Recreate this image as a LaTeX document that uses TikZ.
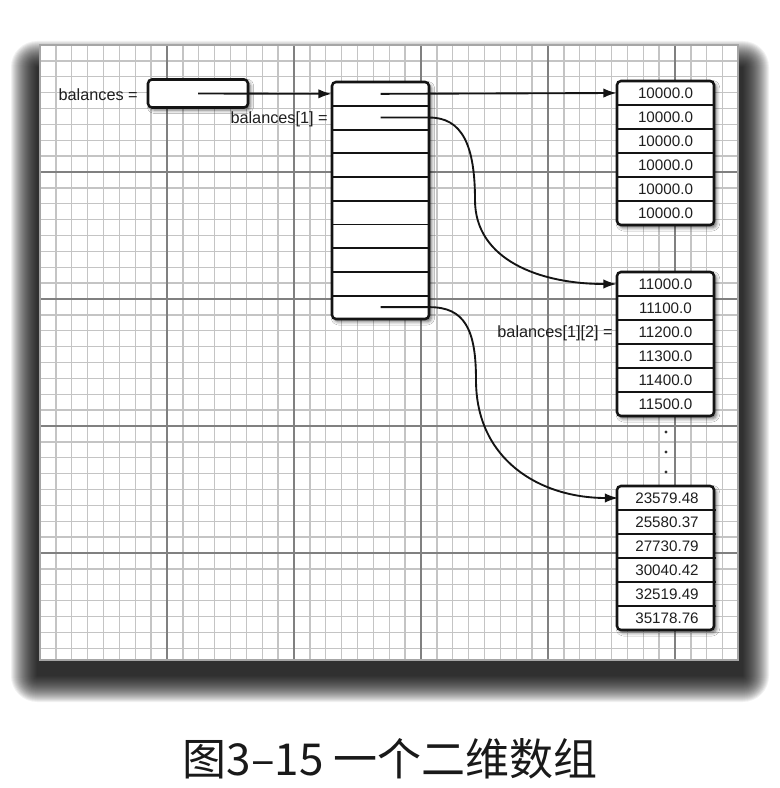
\documentclass[tikz,border=0pt]{standalone}
\usepackage{fontspec}
\setmainfont{Liberation Sans}
\newfontfamily\cjk{Noto Sans CJK SC}
\usetikzlibrary{arrows.meta,shadows.blur}
\newcommand\lblfont{\fontsize{12.2}{14}\selectfont}
\newcommand\valfont{\fontsize{11.4}{13}\selectfont}
\begin{document}
\begin{tikzpicture}[x=0.75pt,y=-0.75pt,
  minor/.style={draw=gray!46, line width=1.1pt},
  major/.style={draw=gray!100, line width=1.2pt},
  shadowlayer/.style={fill=black, fill opacity=0.056},
  boxouter/.style={draw=black!92, line width=1.9pt, rounded corners=3pt, fill=white,
     blur shadow={shadow xshift=1.8pt, shadow yshift=-2pt, shadow blur radius=2.5pt, shadow opacity=60}},
  tcell/.style={minimum width=72.75pt, minimum height=17.775pt, inner sep=0pt},
  rcell/.style={minimum width=72.75pt, minimum height=18pt, inner sep=0pt, font=\valfont, text=black!88},
  divider/.style={draw=black!92, line width=1.4pt},
  ptr/.style={draw=black!92, line width=1.4pt, -{Latex[length=10pt,width=7pt]}},
  lbl/.style={inner sep=0pt, font=\lblfont, text=black!88},
  dotmark/.style={fill=black!80}]
\useasboundingbox (0,0) rectangle (780,788);
\fill[white] (0,0) rectangle (780,788);
% panel shadow: stacked translucent layers
\foreach \r in {0,1,...,26}
  \fill[shadowlayer, rounded corners={\r*0.75pt+0.1pt}] ({37-\r},{67-\r}) rectangle ({743+\r},{676+\r});
% panel
\fill[white] (40,45) rectangle (738,660);
% grid
\foreach \k in {1,...,43} \draw[minor] ({40+\k*15.875},45) -- ({40+\k*15.875},660);
\foreach \k in {1,...,38} \draw[minor] (40,{45+\k*15.875}) -- (738,{45+\k*15.875});
\foreach \k in {8,16,24,32,40} \draw[major] ({40+\k*15.875},45) -- ({40+\k*15.875},660);
\foreach \k in {8,16,24,32} \draw[major] (40,{45+\k*15.875}) -- (738,{45+\k*15.875});
\draw[gray!70, line width=0.8pt] (40,45) rectangle (738,660);

% small box
\node[boxouter, minimum width=75pt, minimum height=21pt, inner sep=0pt] (s) at (198,93.5) {};
\node[lbl, anchor=east] (l1) at (138,95) {balances =};

% tall box
\path[boxouter] (332,82) rectangle (429,319);
\foreach \i in {0,...,9} \node[tcell] (t\i) at (380.5,{82+23.7*\i+11.85}) {};
\foreach \i in {0,...,8} \draw[divider] (t\i.south west) -- (t\i.south east);
\node[lbl, anchor=east] (l2) at (328,119) {balances[1] =};

% box A
\path[boxouter] (617,81) rectangle (714,225);
\foreach \v [count=\i from 0] in {10000.0,10000.0,10000.0,10000.0,10000.0,10000.0}
  \node[rcell] (a\i) at (665.5,{81+24*\i+12}) {\v};
\foreach \i in {0,...,4} \draw[divider] (a\i.south west) -- (a\i.south east);

% box B
\path[boxouter] (617,272) rectangle (714,416);
\foreach \v [count=\i from 0] in {11000.0,11100.0,11200.0,11300.0,11400.0,11500.0}
  \node[rcell] (b\i) at (665.5,{272+24*\i+12}) {\v};
\foreach \i in {0,...,4} \draw[divider] (b\i.south west) -- (b\i.south east);
\node[lbl, anchor=east] (l3) at (613,333) {balances[1][2] =};

% dots
\fill[dotmark] (666,432) circle[radius=1.2pt];
\fill[dotmark] (666,452) circle[radius=1.2pt];
\fill[dotmark] (666,472) circle[radius=1.2pt];

% box C
\path[boxouter] (617,486) rectangle (714,630);
\foreach \v [count=\i from 0] in {23579.48,25580.37,27730.79,30040.42,32519.49,35178.76}
  \node[rcell] (c\i) at (667,{486+24*\i+12}) {\v};
\foreach \i in {0,...,4} \draw[divider] (c\i.south west) -- (c\i.south east);

% pointers
\draw[ptr] (s.center) -- (t0.west);
\draw[ptr] (t0.center) -- (a0.west);
\draw[ptr] (t1.center) -- (t1.east) .. controls (462,117.5) and (475,145) .. (475,200) .. controls (475,260) and (540,284) .. (b0.west);
\draw[ptr] (t9.center) -- (t9.east) .. controls (465,307) and (476,330) .. (476,380) .. controls (476,460) and (540,498) .. (c0.west);

% caption
\node[font=\cjk\fontsize{33}{39}\selectfont, text=black!90] (cap) at (390,759) {图3–15 一个二维数组};
\end{tikzpicture}
\end{document}
